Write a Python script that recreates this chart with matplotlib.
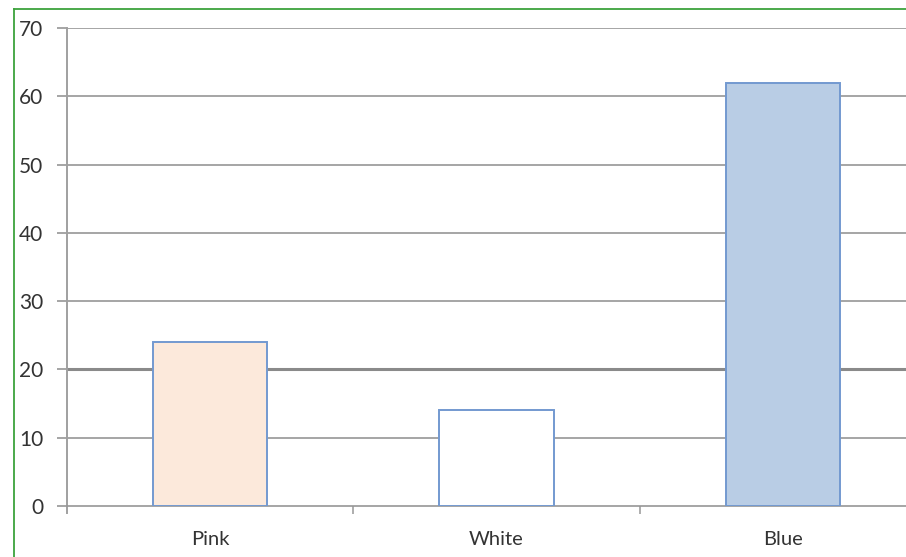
import matplotlib
matplotlib.use("Agg")
import matplotlib.pyplot as plt
from matplotlib.lines import Line2D

categories = ["Pink", "White", "Blue"]
values = [24, 14, 62]
fill_colors = ["#FCE9DB", "#FFFFFF", "#B9CDE5"]
yticks = [0, 10, 20, 30, 40, 50, 60, 70]

plt.rcParams['font.family'] = ['Lato', 'DejaVu Sans']

W, H = 906, 557
fig = plt.figure(figsize=(W / 100, H / 100), dpi=100)
fig.patch.set_facecolor("white")

# axes geometry (extends beyond right edge like the cropped reference)
left, right, top, bottom = 67, 926, 28, 506
ax = fig.add_axes([left / W, 1 - bottom / H, (right - left) / W, (bottom - top) / H])
ax.set_facecolor("none")

x = list(range(len(categories)))
ax.bar(x, values, width=0.40, color=fill_colors, edgecolor="#7399D0",
       linewidth=1.4, zorder=3)

ax.set_xlim(-0.5, len(categories) - 0.5)
ax.set_ylim(0, 70)

# gridlines
for t in yticks[1:]:
    lw = 2.2 if t == 20 else 1.2
    col = "#8A8A8A" if t == 20 else "#969696"
    ax.axhline(t, color=col, linewidth=lw, zorder=1)

ax.set_yticks(yticks)
ax.set_yticklabels([str(t) for t in yticks])
ax.tick_params(axis="y", length=7, width=1.2, color="#969696", pad=10,
               labelsize=15, labelcolor="#333333")

ax.set_xticks(x)
ax.set_xticklabels(categories)
ax.tick_params(axis="x", which="major", length=0, pad=18, labelsize=14.5,
               labelcolor="#333333")
ax.set_xticks([0.5, 1.5], minor=True)
ax.tick_params(axis="x", which="minor", length=6, width=1.2, color="#A0A0A0")

for s in ["top", "right"]:
    ax.spines[s].set_visible(False)
ax.spines["left"].set_color("#A0A0A0")
ax.spines["left"].set_linewidth(1.4)
ax.spines["bottom"].set_color("#969696")
ax.spines["bottom"].set_linewidth(1.2)
ax.spines["left"].set_bounds(-1.0, 70)

# green chart border (cropped: left and top edges visible)
bx, by = 13.5, 8.5
fig.add_artist(Line2D([bx / W, bx / W], [0, 1 - by / H], color="#3DA33D",
                      linewidth=1.3, transform=fig.transFigure))
fig.add_artist(Line2D([bx / W, 1], [1 - by / H, 1 - by / H], color="#3DA33D",
                      linewidth=1.3, transform=fig.transFigure))

fig.savefig("out.png", dpi=100)
